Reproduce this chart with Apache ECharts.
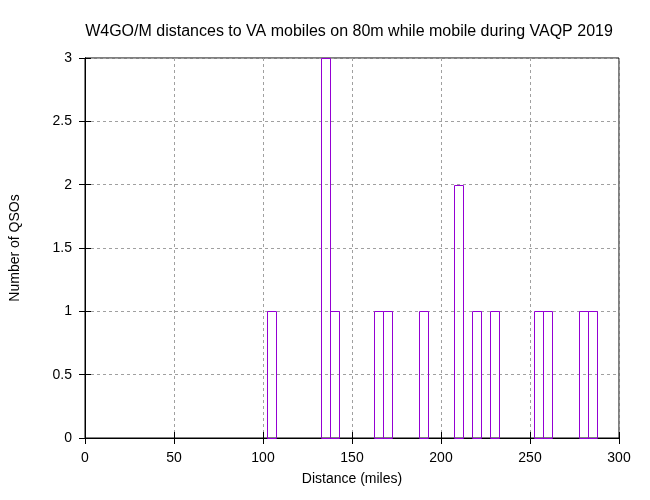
<!DOCTYPE html>
<html><head><meta charset="utf-8">
<script src="https://cdn.jsdelivr.net/npm/echarts@6/dist/echarts.min.js"></script>
<style>html,body{margin:0;padding:0;background:#fff}#c{width:650px;height:500px}</style>
</head><body><div id="c"></div>
<script>
const binCenters = [105, 135, 140, 165, 170, 190, 210, 220, 230, 255, 260, 280, 285];
const counts     = [1,   3,   1,   1,   1,   1,   2,   1,   1,   1,   1,   1,   1];
const binWidth = 5;
const xTicks = [0, 50, 100, 150, 200, 250, 300];
const yTicks = [0, 0.5, 1, 1.5, 2, 2.5, 3];

const FONT = 'Liberation Sans';
const data = binCenters.map((c, i) => [c, counts[i]]);
const chart = echarts.init(document.getElementById('c'), null, {renderer: 'canvas'});
const gridLine = {show: true, lineStyle: {color: '#a0a0a0', type: [3, 3], width: 1}};
chart.setOption({
  animation: false,
  backgroundColor: '#fff',
  title: {
    text: 'W4GO/M distances to VA mobiles on 80m while mobile during VAQP 2019',
    left: 344, top: 19, textAlign: 'center',
    textStyle: {fontFamily: FONT, fontSize: 16, fontWeight: 'normal', color: '#000'}
  },
  grid: {left: 85, right: 31, top: 58, bottom: 62, show: true, borderColor: '#000', borderWidth: 1},
  xAxis: [{
    type: 'value', min: xTicks[0], max: xTicks[xTicks.length - 1], interval: 50,
    name: 'Distance (miles)', nameLocation: 'middle', nameGap: 34,
    nameTextStyle: {fontFamily: FONT, fontSize: 14, color: '#000'},
    axisLine: {show: true, lineStyle: {color: '#000'}},
    axisTick: {show: true, inside: true, length: 6, lineStyle: {color: '#000'}},
    axisLabel: {fontFamily: FONT, fontSize: 14, color: '#000', margin: 13},
    splitLine: gridLine
  }, {
    type: 'value', position: 'top', min: xTicks[0], max: xTicks[xTicks.length - 1], interval: 50,
    axisLine: {show: true, lineStyle: {color: '#000'}},
    axisTick: {show: true, inside: true, length: 6, lineStyle: {color: '#000'}},
    axisLabel: {show: false}, splitLine: {show: false}
  }],
  yAxis: [{
    type: 'value', min: yTicks[0], max: yTicks[yTicks.length - 1], interval: 0.5,
    name: 'Number of QSOs', nameLocation: 'middle', nameGap: 63, nameRotate: 90,
    nameTextStyle: {fontFamily: FONT, fontSize: 14, color: '#000'},
    axisLine: {show: true, lineStyle: {color: '#000'}},
    axisTick: {show: true, inside: true, length: 6, lineStyle: {color: '#000'}},
    axisLabel: {fontFamily: FONT, fontSize: 14, color: '#000', margin: 13},
    splitLine: gridLine
  }, {
    type: 'value', position: 'right', min: yTicks[0], max: yTicks[yTicks.length - 1], interval: 0.5,
    axisLine: {show: true, lineStyle: {color: '#000'}},
    axisTick: {show: true, inside: true, length: 6, lineStyle: {color: '#000'}},
    axisLabel: {show: false}, splitLine: {show: false}
  }],
  series: [{
    type: 'custom',
    xAxisIndex: 0, yAxisIndex: 0,
    data: data,
    z: 3,
    renderItem: function (params, api) {
      const c = api.value(0), v = api.value(1);
      const p1 = api.coord([c - binWidth / 2, v]);
      const p2 = api.coord([c + binWidth / 2, 0]);
      const x1 = Math.round(p1[0]) + 0.5, x2 = Math.round(p2[0]) + 0.5;
      const y1 = Math.round(p1[1]) + 0.5, y2 = Math.round(p2[1]) + 0.5;
      return {
        type: 'rect',
        shape: {x: x1, y: y1, width: x2 - x1, height: y2 - y1},
        style: {fill: null, stroke: '#9400d3', lineWidth: 1}
      };
    }
  }]
});
</script></body></html>
